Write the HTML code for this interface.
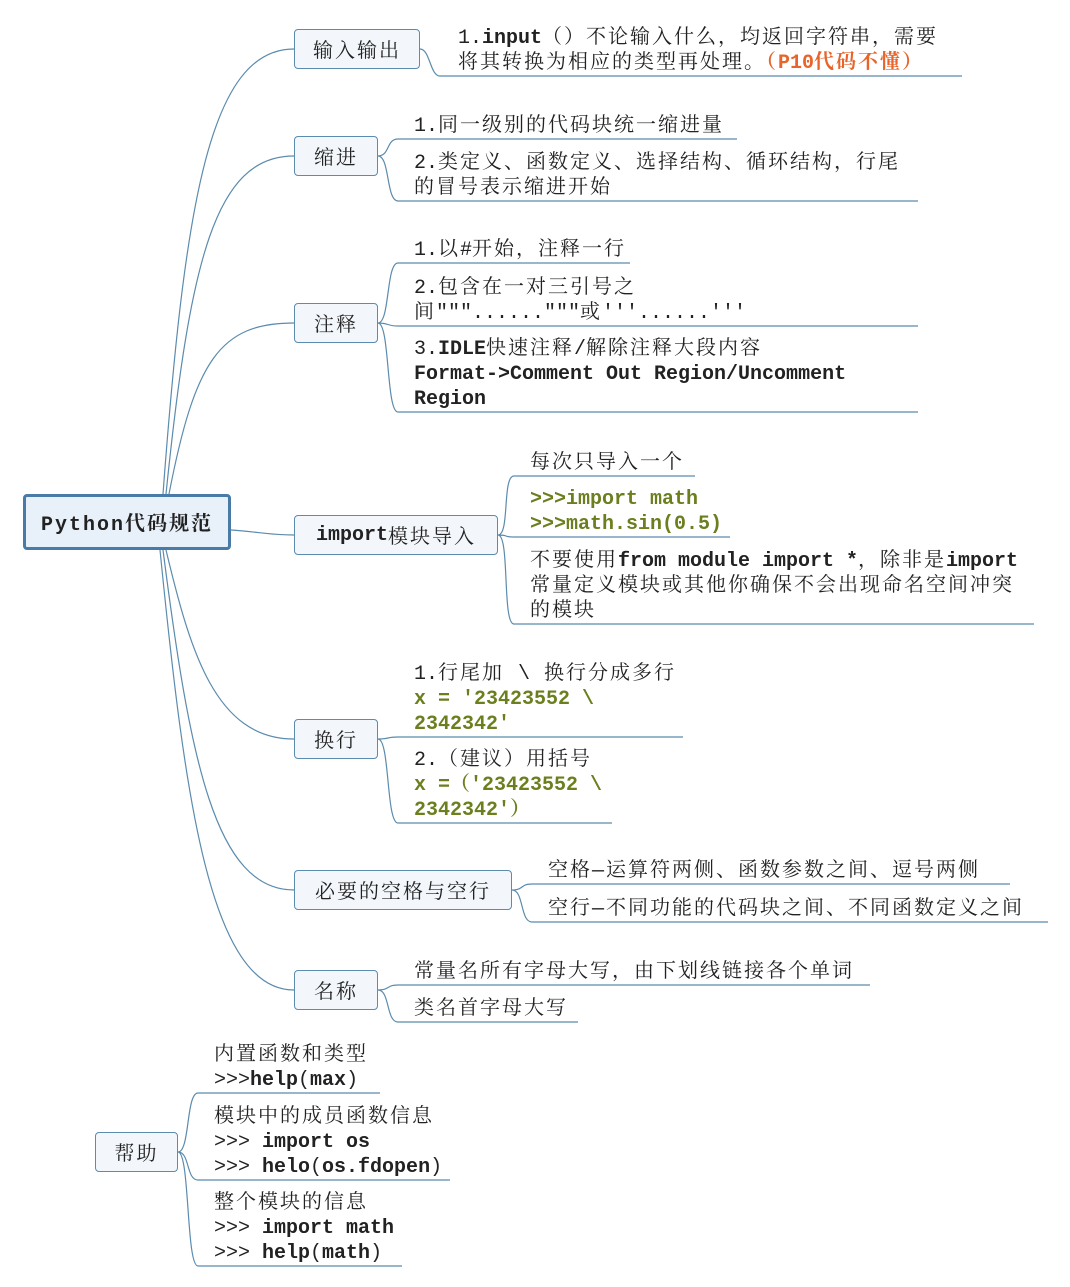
<!DOCTYPE html>
<html><head><meta charset="utf-8"><style>
body{margin:0;width:1070px;height:1287px;background:#fff;position:relative;overflow:hidden;font-family:"Liberation Mono","Noto Serif CJK SC",serif;color:#222}
.b{position:absolute;box-sizing:border-box;border:1px solid #5b8bad;border-radius:4px;background:#f3f7fb;font-size:20px;display:flex;align-items:center;justify-content:center;white-space:nowrap;letter-spacing:2px}
.t{position:absolute;font-size:20px;line-height:25px;white-space:pre;letter-spacing:2px;margin-top:3px}
b{font-weight:bold;letter-spacing:0}
.g{color:#6b7f1e;font-weight:bold;letter-spacing:0}
.o{color:#e8642a;font-weight:bold}
.l{letter-spacing:0}
svg{position:absolute;left:0;top:0}
</style></head><body>
<svg width="1070" height="1287" fill="none" stroke="#5b8bad" stroke-width="1.2">
<path d="M163 494 C185 200,210 49,294 49"/>
<path d="M166 494 C190 260,215 156,294 156"/>
<path d="M169 494 C195 360,220 323,294 323"/>
<path d="M231 530 C260 532,270 535,294 535"/>
<path d="M166 550 C190 650,215 739,294 739"/>
<path d="M163 550 C190 760,215 890,294 890"/>
<path d="M160 550 C185 800,210 990,294 990"/>
<path d="M440 76H962 M398 139H737 M398 201H918 M398 263H630 M398 326H918 M398 412H918 M514 476H695 M514 537H730 M514 624H1034 M398 737H683 M398 823H612 M532 884H1010 M532 922H1048 M398 985H870 M398 1022H578 M198 1093H380 M198 1180H450 M198 1266H402"/>
<path d="M420 49 C430 49,430 76,440 76"/>
<path d="M378 156 C390 156,386 139,398 139 M378 156 C390 156,386 201,398 201"/>
<path d="M378 323 C390 323,386 263,398 263 M378 323 C390 323,386 326,398 326 M378 323 C390 323,386 412,398 412"/>
<path d="M498 535 C510 535,502 476,514 476 M498 535 C510 535,502 537,514 537 M498 535 C510 535,502 624,514 624"/>
<path d="M378 739 C390 739,386 737,398 737 M378 739 C390 739,386 823,398 823"/>
<path d="M512 890 C524 890,520 884,532 884 M512 890 C524 890,520 922,532 922"/>
<path d="M378 990 C390 990,386 985,398 985 M378 990 C390 990,386 1022,398 1022"/>
<path d="M178 1152 C190 1152,186 1093,198 1093 M178 1152 C190 1152,186 1180,198 1180 M178 1152 C190 1152,186 1266,198 1266"/>
</svg>
<div class="b" style="left:23px;top:494px;width:208px;height:56px;border:3px solid #4a7ba6;background:#e8f1fa;font-weight:bold">Python代码规范</div>
<div class="b" style="left:294px;top:29px;width:126px;height:40px">输入输出</div>
<div class="b" style="left:294px;top:136px;width:84px;height:40px">缩进</div>
<div class="b" style="left:294px;top:303px;width:84px;height:40px">注释</div>
<div class="b" style="left:294px;top:515px;width:204px;height:40px"><b>import</b>模块导入</div>
<div class="b" style="left:294px;top:719px;width:84px;height:40px">换行</div>
<div class="b" style="left:294px;top:870px;width:218px;height:40px">必要的空格与空行</div>
<div class="b" style="left:294px;top:970px;width:84px;height:40px">名称</div>
<div class="b" style="left:95px;top:1132px;width:83px;height:40px">帮助</div>

<div class="t" style="left:458px;top:23px"><span class="l">1.</span><b>input</b>（）不论输入什么，均返回字符串，需要
将其转换为相应的类型再处理。<span class="o">（<span class="l">P10</span>代码不懂）</span></div>
<div class="t" style="left:414px;top:111px"><span class="l">1.</span>同一级别的代码块统一缩进量</div>
<div class="t" style="left:414px;top:148px"><span class="l">2.</span>类定义、函数定义、选择结构、循环结构，行尾
的冒号表示缩进开始</div>
<div class="t" style="left:414px;top:235px"><span class="l">1.</span>以<span class="l">#</span>开始，注释一行</div>
<div class="t" style="left:414px;top:273px"><span class="l">2.</span>包含在一对三引号之
间<span class="l">"""......"""</span>或<span class="l">'''......'''</span></div>
<div class="t" style="left:414px;top:334px"><span class="l">3.</span><b>IDLE</b>快速注释<span class="l">/</span>解除注释大段内容
<b>Format-&gt;Comment Out Region/Uncomment
Region</b></div>
<div class="t" style="left:530px;top:448px">每次只导入一个</div>
<div class="t" style="left:530px;top:484px"><span class="g">&gt;&gt;&gt;import math
&gt;&gt;&gt;math.sin(0.5)</span></div>
<div class="t" style="left:530px;top:546px">不要使用<b>from module import *</b>，除非是<b>import</b>
常量定义模块或其他你确保不会出现命名空间冲突
的模块</div>
<div class="t" style="left:414px;top:659px"><span class="l">1.</span>行尾加 <span class="l">\</span> 换行分成多行
<span class="g">x = '23423552 \
2342342'</span></div>
<div class="t" style="left:414px;top:745px"><span class="l">2.</span>（建议）用括号
<span class="g">x =（'23423552 \
2342342'）</span></div>
<div class="t" style="left:548px;top:856px">空格—运算符两侧、函数参数之间、逗号两侧</div>
<div class="t" style="left:548px;top:894px">空行—不同功能的代码块之间、不同函数定义之间</div>
<div class="t" style="left:414px;top:957px">常量名所有字母大写，由下划线链接各个单词</div>
<div class="t" style="left:414px;top:994px">类名首字母大写</div>
<div class="t" style="left:214px;top:1040px">内置函数和类型
<span class="l">&gt;&gt;&gt;</span><b>help</b><span class="l">(</span><b>max</b><span class="l">)</span></div>
<div class="t" style="left:214px;top:1102px">模块中的成员函数信息
<span class="l">&gt;&gt;&gt; </span><b>import os</b>
<span class="l">&gt;&gt;&gt; </span><b>helo</b><span class="l">(</span><b>os.fdopen</b><span class="l">)</span></div>
<div class="t" style="left:214px;top:1188px">整个模块的信息
<span class="l">&gt;&gt;&gt; </span><b>import math</b>
<span class="l">&gt;&gt;&gt; </span><b>help</b><span class="l">(</span><b>math</b><span class="l">)</span></div>
</body></html>
